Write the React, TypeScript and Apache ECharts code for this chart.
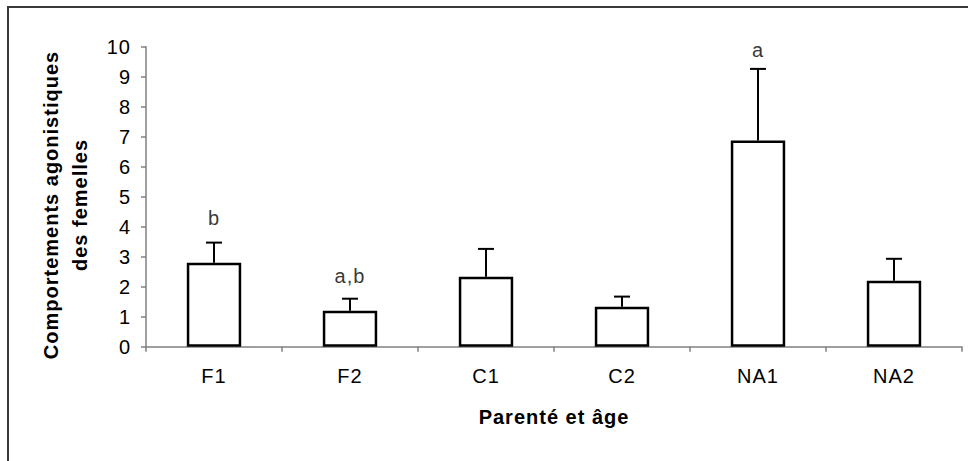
import React, { useEffect, useRef } from 'react';
import * as echarts from 'echarts';

const categories = ['F1', 'F2', 'C1', 'C2', 'NA1', 'NA2'];
const means = [2.8, 1.2, 2.33, 1.33, 6.87, 2.2];
const errors = [0.67, 0.4, 0.93, 0.34, 2.39, 0.73];
const letters = ['b', 'a,b', '', '', 'a', ''];
const letterValues: (number | null)[] = [4.3, 2.35, null, null, 9.9, null];
const yMin = 0;
const yMax = 10;
const yInterval = 1;

const FONT = 'Liberation Sans';

export default function App() {
  const ref = useRef<HTMLDivElement>(null);

  useEffect(() => {
    if (!ref.current) return;
    const chart = echarts.init(ref.current, undefined, { renderer: 'svg' });

    const letterData = letterValues
      .map((v, i) => (v == null ? null : { value: [i, v], name: letters[i] }))
      .filter((d) => d !== null);

    chart.setOption({
      animation: false,
      backgroundColor: '#ffffff',
      textStyle: { fontFamily: FONT },
      grid: { left: 146, right: 6, top: 46.7, bottom: 114.3, containLabel: false },
      graphic: [
        {
          type: 'rect',
          shape: { x: 8, y: 7, width: 1200, height: 800 },
          style: { fill: 'none', stroke: '#3a3a3a', lineWidth: 2 },
          silent: true,
          z: -10,
        },
        {
          type: 'text',
          x: 65,
          y: 205,
          rotation: Math.PI / 2,
          style: {
            text: 'Comportements agonistiques\ndes femelles',
            fontFamily: FONT,
            fontWeight: 'bold',
            fontSize: 20,
            lineHeight: 29,
            fill: '#000',
            align: 'center',
            verticalAlign: 'middle',
            textAlign: 'center',
            textVerticalAlign: 'middle',
          },
        },
      ],
      xAxis: {
        type: 'category',
        data: categories,
        boundaryGap: true,
        axisLine: { show: true, lineStyle: { color: '#808080', width: 1.5 } },
        axisTick: { show: true, interval: 0, length: 5, lineStyle: { color: '#808080', width: 1.5 } },
        axisLabel: { interval: 0, color: '#000', fontSize: 20, fontFamily: FONT, margin: 19 },
        splitLine: { show: false },
        name: 'Parenté et âge',
        nameLocation: 'middle',
        nameGap: 60,
        nameTextStyle: { color: '#000', fontSize: 20, fontWeight: 'bold', fontFamily: FONT },
      },
      yAxis: {
        type: 'value',
        min: yMin,
        max: yMax,
        interval: yInterval,
        axisLine: { show: true, lineStyle: { color: '#808080', width: 1.5 } },
        axisTick: { show: true, length: 5, lineStyle: { color: '#808080', width: 1.5 } },
        axisLabel: { color: '#000', fontSize: 20, fontFamily: FONT, margin: 15 },
        splitLine: { show: false },
      },
      series: [
        {
          type: 'bar',
          data: means,
          barWidth: '40%',
          itemStyle: { color: '#ffffff', borderColor: '#000000', borderWidth: 2.5 },
          z: 2,
        },
        {
          type: 'custom',
          data: categories.map((c, i) => [i, means[i], errors[i]]),
          encode: { x: 0, y: 1 },
          z: 3,
          renderItem: (params: any, api: any) => {
            const i = api.value(0);
            const m = api.value(1);
            const e = api.value(2);
            const p0 = api.coord([i, m]);
            const p1 = api.coord([i, m + e]);
            return {
              type: 'group',
              children: [
                {
                  type: 'line',
                  shape: { x1: p0[0], y1: p0[1], x2: p1[0], y2: p1[1] },
                  style: { stroke: '#000', lineWidth: 2 },
                },
                {
                  type: 'line',
                  shape: { x1: p1[0] - 8, y1: p1[1], x2: p1[0] + 8, y2: p1[1] },
                  style: { stroke: '#000', lineWidth: 2 },
                },
              ],
            };
          },
        },
        {
          type: 'scatter',
          data: letterData,
          symbolSize: 0,
          z: 4,
          label: {
            show: true,
            position: 'inside',
            formatter: (p: any) => p.name,
            color: '#000',
            fontSize: 20,
            fontFamily: FONT,
          },
        },
      ],
    });

    return () => chart.dispose();
  }, []);

  return (
    <div
      ref={ref}
      style={{ position: 'absolute', left: 0, top: 0, width: 968, height: 461, letterSpacing: '1px' }}
    />
  );
}
